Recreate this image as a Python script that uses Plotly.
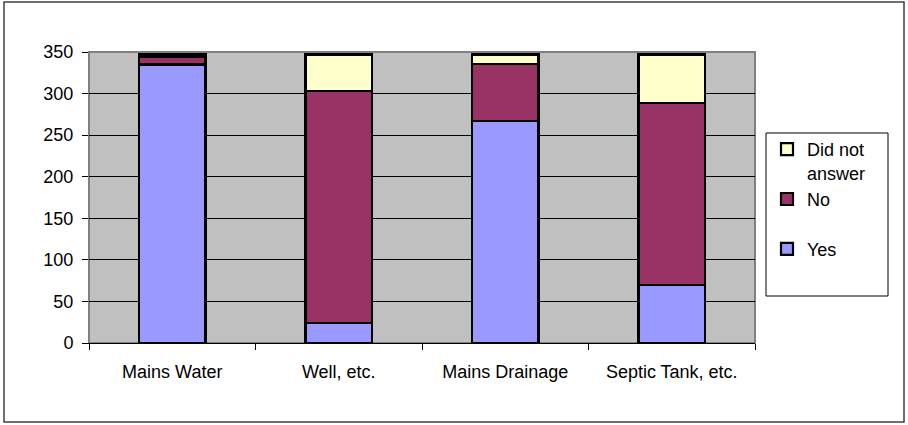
import plotly.graph_objects as go

categories = ["Mains Water", "Well, etc.", "Mains Drainage", "Septic Tank, etc."]
yes_vals = [335, 24, 267, 70]
no_vals = [9, 279, 69, 219]
dna_vals = [3, 44, 11, 58]
y_ticks = [0, 50, 100, 150, 200, 250, 300, 350]

FONT = "Liberation Sans, Arial, sans-serif"
W, H = 908, 425
L, R, T, B = 89, 153, 52, 82
pw, ph = W - L - R, H - T - B

def px_x(p):
    return (p - L) / pw

def px_y(p):
    return (H - B - p) / ph

fig = go.Figure()
series = [("Yes", yes_vals, "#9999FF"), ("No<br> ", no_vals, "#993366"),
          ("Did not<br>answer", dna_vals, "#FFFFCC")]
for name, vals, col in series:
    fig.add_trace(go.Bar(
        x=categories, y=vals, name=name, legendgroup=name,
        marker=dict(color=col, line=dict(color="black", width=2.2)),
        width=0.4,
    ))

fig.update_layout(
    barmode="stack",
    width=W, height=H,
    margin=dict(l=L, r=R, t=T, b=B, pad=0),
    paper_bgcolor="white",
    plot_bgcolor="#C0C0C0",
    font=dict(family=FONT, size=18, color="black"),
    showlegend=True,
    legend=dict(
        x=px_x(767), xanchor="left",
        y=px_y(131), yanchor="top",
        traceorder="reversed",
        tracegroupgap=11,
        valign="top",
        bgcolor="rgba(0,0,0,0)",
        borderwidth=0,
        font=dict(family=FONT, size=18, color="black"),
    ),
    xaxis=dict(
        showgrid=False, showline=True, linecolor="black", linewidth=1,
        ticks="outside", ticklen=6, tickcolor="black", tickson="boundaries",
        ticklabelstandoff=12,
        range=[-0.5, 3.5],
    ),
    yaxis=dict(
        range=[0, 350], tickvals=y_ticks,
        showgrid=True, gridcolor="black", gridwidth=1,
        showline=True, linecolor="#808080", linewidth=1,
        ticks="outside", ticklen=6, tickcolor="black",
        ticklabelstandoff=5,
        zeroline=False,
    ),
    shapes=[
        dict(type="rect", xref="paper", yref="paper",
             x0=0, x1=1, y0=0, y1=1,
             line=dict(color="#808080", width=2), layer="below"),
        dict(type="rect", xref="paper", yref="paper",
             x0=px_x(766), x1=px_x(888), y0=px_y(296), y1=px_y(133),
             line=dict(color="black", width=1)),
        dict(type="rect", xref="paper", yref="paper",
             x0=px_x(4), x1=px_x(904), y0=px_y(422), y1=px_y(2),
             line=dict(color="#404040", width=1.5)),
    ],
)

fig.write_html(
    "out.html",
    config={"displayModeBar": False},
    post_script="document.body.style.margin='0';document.body.style.overflow='hidden';",
)
